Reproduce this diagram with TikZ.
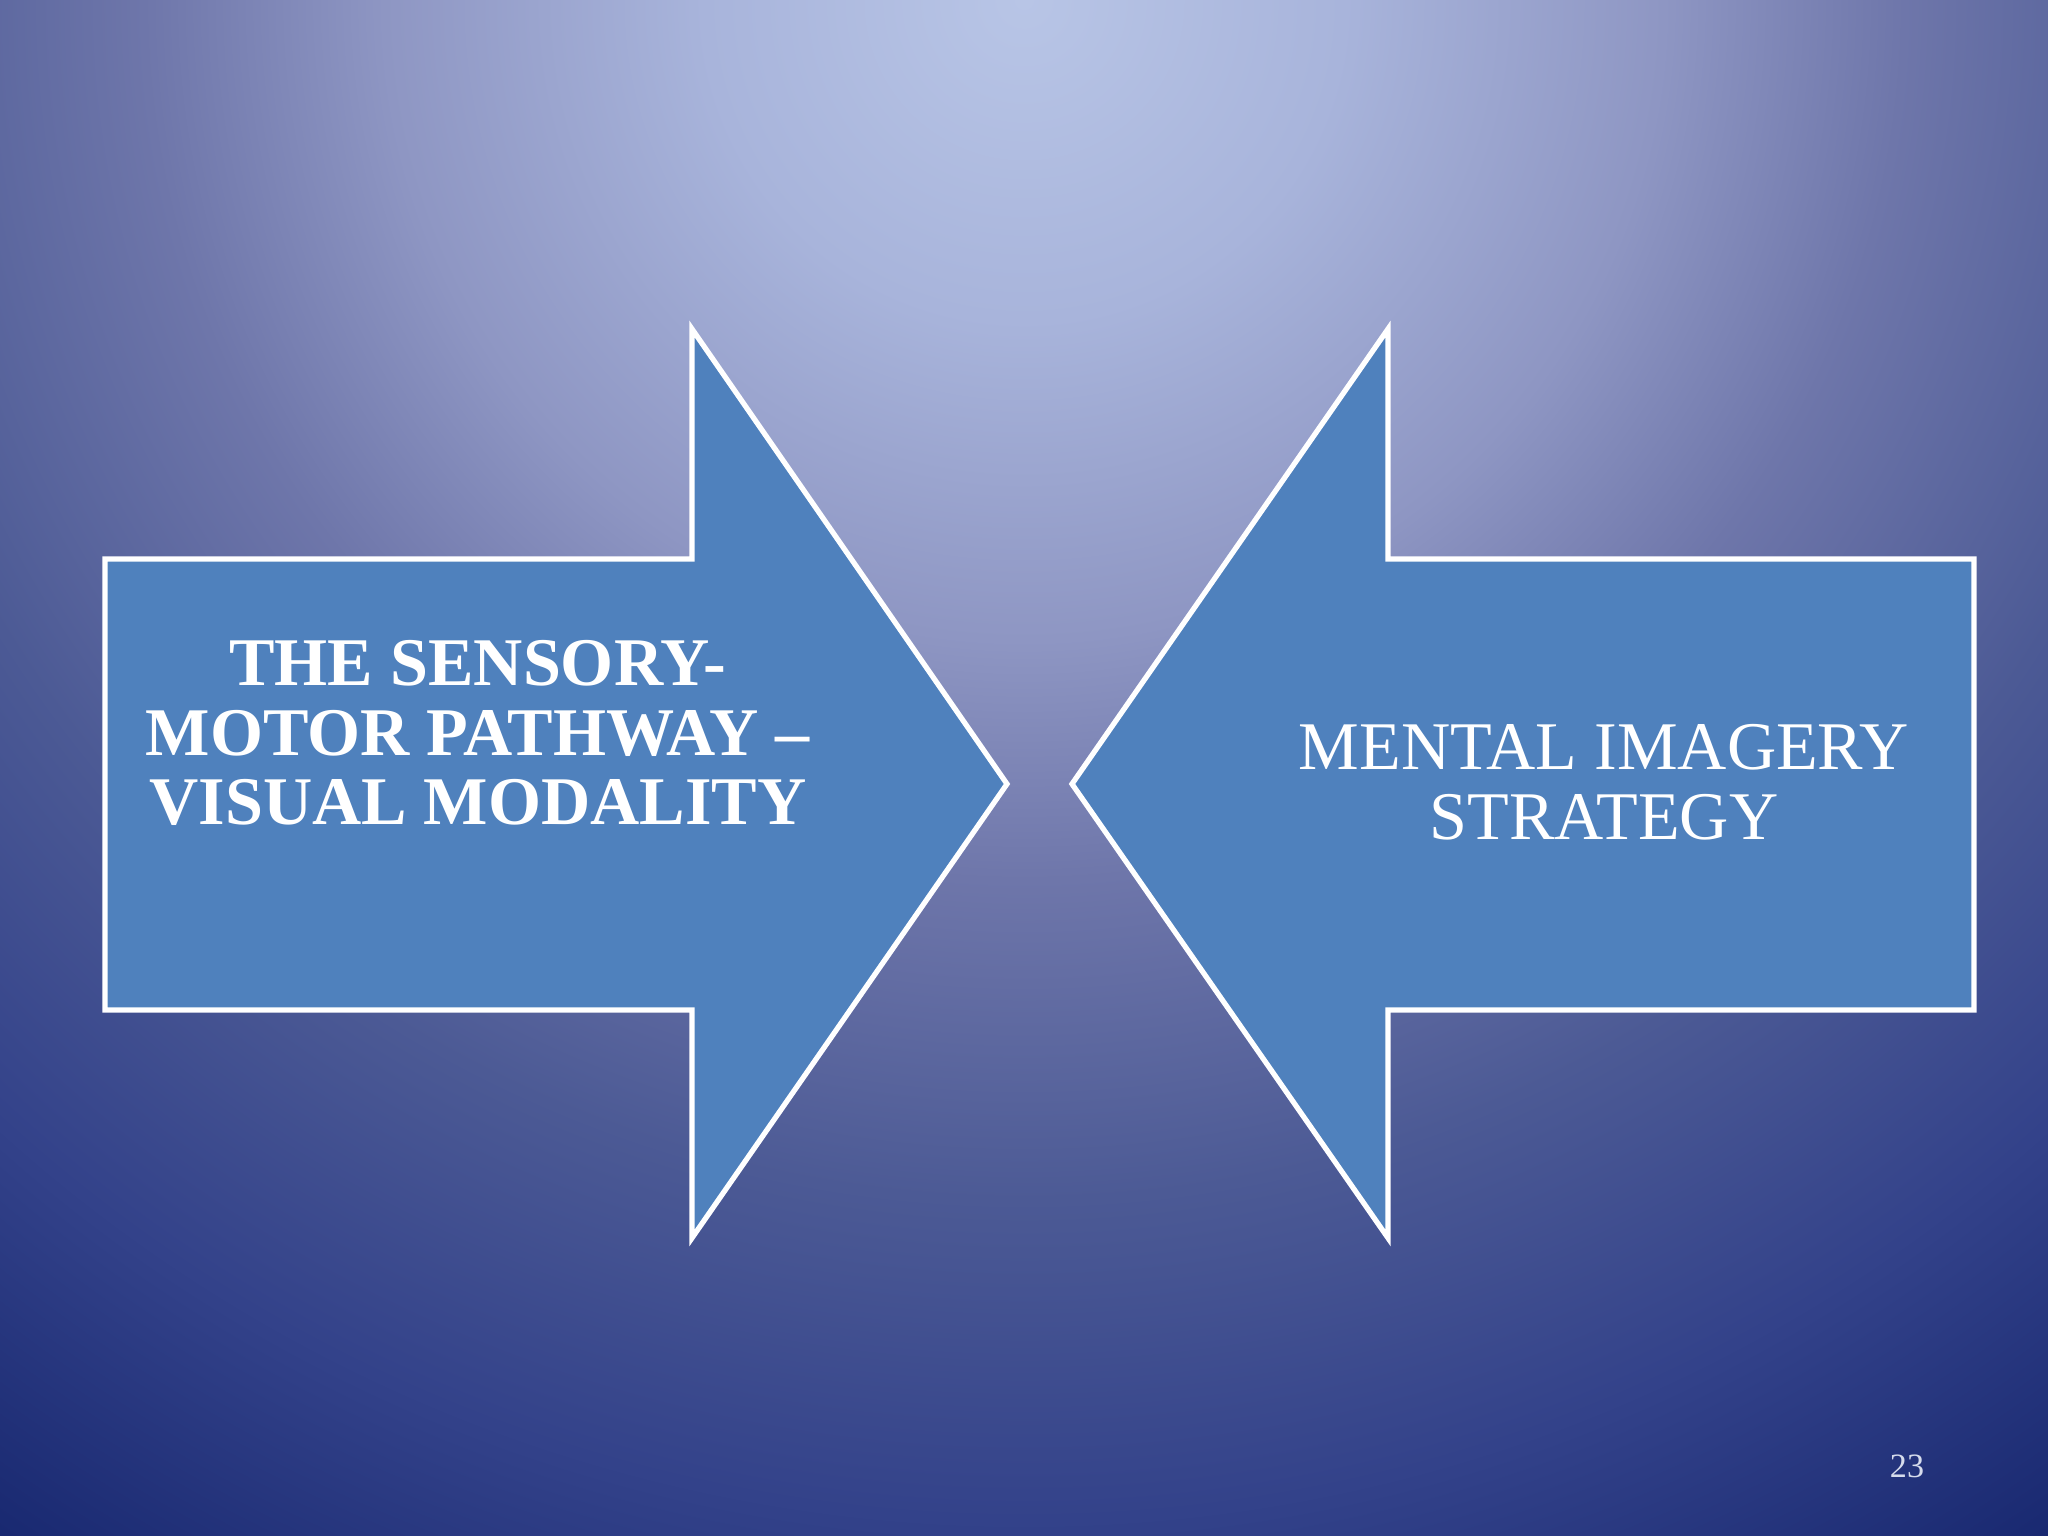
\documentclass[tikz,border=0pt]{standalone}
\usepackage{fontspec}
\setmainfont{Liberation Serif}

\definecolor{arrowblue}{HTML}{4F81BD}
\definecolor{pagegray}{HTML}{D6DCEC}
\definecolor{bgA}{HTML}{B8C5E6}
\definecolor{bgB}{HTML}{A8B4DB}
\definecolor{bgC}{HTML}{8E96C3}
\definecolor{bgD}{HTML}{6E76AA}
\definecolor{bgE}{HTML}{4C5A95}
\definecolor{bgF}{HTML}{33428A}
\definecolor{bgG}{HTML}{16266E}

\pgfdeclareradialshading{slideback}{\pgfpoint{0bp}{0bp}}{%
  color(0bp)=(bgA); color(4bp)=(bgB); color(8bp)=(bgC); color(11bp)=(bgD);
  color(15bp)=(bgE); color(19bp)=(bgF); color(23.5bp)=(bgG); color(50bp)=(bgG)}

\tikzset{
  bigarrow/.style={fill=arrowblue, draw=white, line width=1.5pt, line join=miter},
  arrowtext/.style={text=white, align=center, inner sep=0pt,
    font=\fontsize{19.4pt}{19.9pt}\selectfont},
}

\begin{document}
\begin{tikzpicture}
	\useasboundingbox (0,0) rectangle (20.48,15.36);
	% background
	\begin{scope}
		\clip (0,0) rectangle (20.48,15.36);
		\shade[shading=slideback] (-9.76,-4.64) rectangle (30.24,35.36);
	\end{scope}
	
	% the two arrows
	\draw[bigarrow] (1.05,5.26) -- (1.05,9.77) -- (6.92,9.77) -- (6.92,12.07)
		-- (10.07,7.52) -- (6.92,2.98) -- (6.92,5.26) -- cycle;
	\draw[bigarrow] (19.74,5.26) -- (19.74,9.77) -- (13.88,9.77) -- (13.88,12.07)
		-- (10.72,7.52) -- (13.88,2.98) -- (13.88,5.26) -- cycle;
	
	\node[arrowtext, font=\fontsize{19.4pt}{19.9pt}\selectfont\bfseries] (sensory) at (4.78,8.03)
		{THE SENSORY-\\MOTOR PATHWAY –\\VISUAL MODALITY};
	\node[arrowtext] (imagery) at (16.04,7.54) {MENTAL IMAGERY\\STRATEGY};
	
	\node[text=pagegray, font=\fontsize{9.7pt}{11pt}\selectfont] (pagenum) at (19.07,0.70) {23};
\end{tikzpicture}
\end{document}
